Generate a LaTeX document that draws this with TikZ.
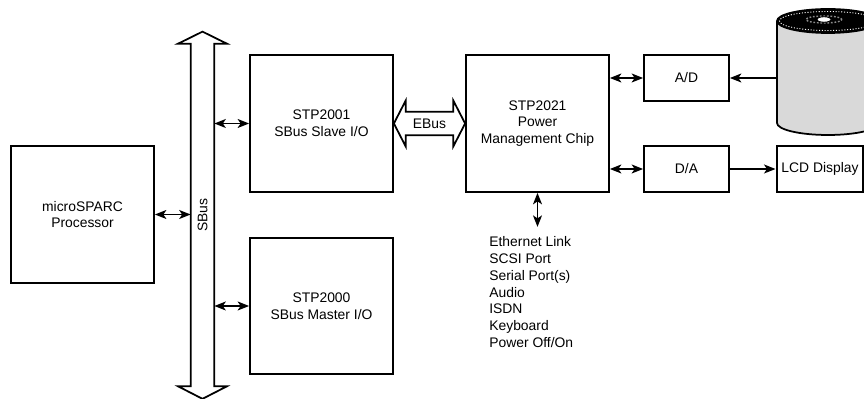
\documentclass[tikz,border=0pt]{standalone}
\usepackage{fontspec}
\setmainfont{Liberation Sans}
\usepackage{tikz}
\usetikzlibrary{arrows.meta,calc}

\begin{document}
\begin{tikzpicture}[every node/.style={font=\fontsize{7.9}{9.6}\selectfont},
    block/.style={draw, line width=1pt, minimum width=2.86cm, minimum height=2.74cm, align=center},
    smallblock/.style={draw, line width=1pt, minimum width=1.7cm, minimum height=0.92cm},
    busline/.style={line width=1pt, line join=miter},
    link/.style={line width=0.75pt, {Stealth[length=2.3mm,width=1.8mm,inset=0.6mm]}-{Stealth[length=2.3mm,width=1.8mm,inset=0.6mm]}},
    feed/.style={line width=0.7pt, -{Stealth[length=2.3mm,width=1.8mm,inset=0.6mm]}}]
            \useasboundingbox (0,0) rectangle (17.28,-7.98);
            \clip (0,0) rectangle (17.28,-7.98);

            % Blocks
            \node[block] (micro) at (1.65,-4.29) {microSPARC\\Processor};
            \node[block] (slave) at (6.43,-2.47) {STP2001\\SBus Slave I/O};
            \node[block, minimum height=2.72cm] (master) at (6.43,-6.12) {STP2000\\SBus Master I/O};
            \node[block] (pmc) at (10.75,-2.47) {STP2021\\Power\\Management Chip};
            \node[smallblock] (ad) at (13.73,-1.56) {A/D};
            \node[smallblock] (da) at (13.73,-3.38) {D/A};
            \node[draw, line width=1.7pt, minimum width=1.72cm, minimum height=0.92cm, inner sep=1pt] (lcd) at (16.40,-3.38) {LCD Display};

            % SBus
            \node[minimum width=0.46cm, minimum height=6.84cm, inner sep=0] (sbus) at (4.05,-4.30) {\rotatebox{90}{SBus}};
            \draw[busline] (sbus.south west) -- (sbus.north west) -- ++(-0.25,0) -- ($(sbus.north)+(0,0.24)$)
                -- ($(sbus.north east)+(0.25,0)$) -- (sbus.north east) -- (sbus.south east) -- ++(0.25,0)
                -- ($(sbus.south)+(0,-0.25)$) -- ($(sbus.south west)+(-0.25,0)$) -- cycle;

            % EBus
            \node[minimum width=0.94cm, minimum height=0.46cm, inner sep=0] (ebus) at (8.59,-2.47) {EBus};
            \draw[busline] (ebus.north west) -- (ebus.north east) -- ++(0,0.22) -- (pmc.west)
                -- ($(ebus.south east)+(0,-0.22)$) -- (ebus.south east) -- (ebus.south west) -- ++(0,-0.22)
                -- (slave.east) -- ($(ebus.north west)+(0,0.22)$) -- cycle;

            % Disk
            \fill[black!15] (15.54,-0.42) -- (15.54,-2.46) arc[start angle=180, end angle=360, x radius=1.02, y radius=0.24] -- (17.58,-0.42) -- cycle;
            \draw[line width=1pt] (15.54,-0.42) -- (15.54,-2.46) arc[start angle=180, end angle=360, x radius=1.02, y radius=0.24];
            \filldraw[line width=1pt] (16.56,-0.42) ellipse[x radius=1.02, y radius=0.24];
            \draw[white, line width=0.5pt, dash pattern=on 0.6pt off 1pt] (16.56,-0.42) ellipse[x radius=0.97, y radius=0.19];
            \draw[black!45, line width=0.8pt, dash pattern=on 1pt off 1pt] (16.48,-0.39) ellipse[x radius=0.36, y radius=0.07];
            \filldraw[fill=white, line width=0.5pt] (16.48,-0.39) ellipse[x radius=0.14, y radius=0.055];
            \coordinate (disk) at (15.54,-1.56);

            % Connectors
            \draw[link] (micro.east) -- (micro.east -| sbus.west);
            \draw[link] (sbus.east |- slave.west) -- (slave.west);
            \draw[link] (sbus.east |- master.west) -- (master.west);
            \draw[link] (pmc.east |- ad.west) -- (ad.west);
            \draw[link] (pmc.east |- da.west) -- (da.west);
            \coordinate (iotip) at ($(pmc.south)+(0,-0.68)$);
            \draw[link] (pmc.south) -- (iotip);
            \draw[feed] (disk) -- (ad.east);
            \draw[feed] (da.east) -- (lcd.west);

            % Interfaces
            \node[anchor=north west, inner sep=0, align=left, font=\fontsize{7.9}{9.6}\selectfont] (ports) at (9.78,-4.72)
                {Ethernet Link\\SCSI Port\\Serial Port(s)\\Audio\\ISDN\\Keyboard\\Power Off/On};
        \end{tikzpicture}
\end{document}
